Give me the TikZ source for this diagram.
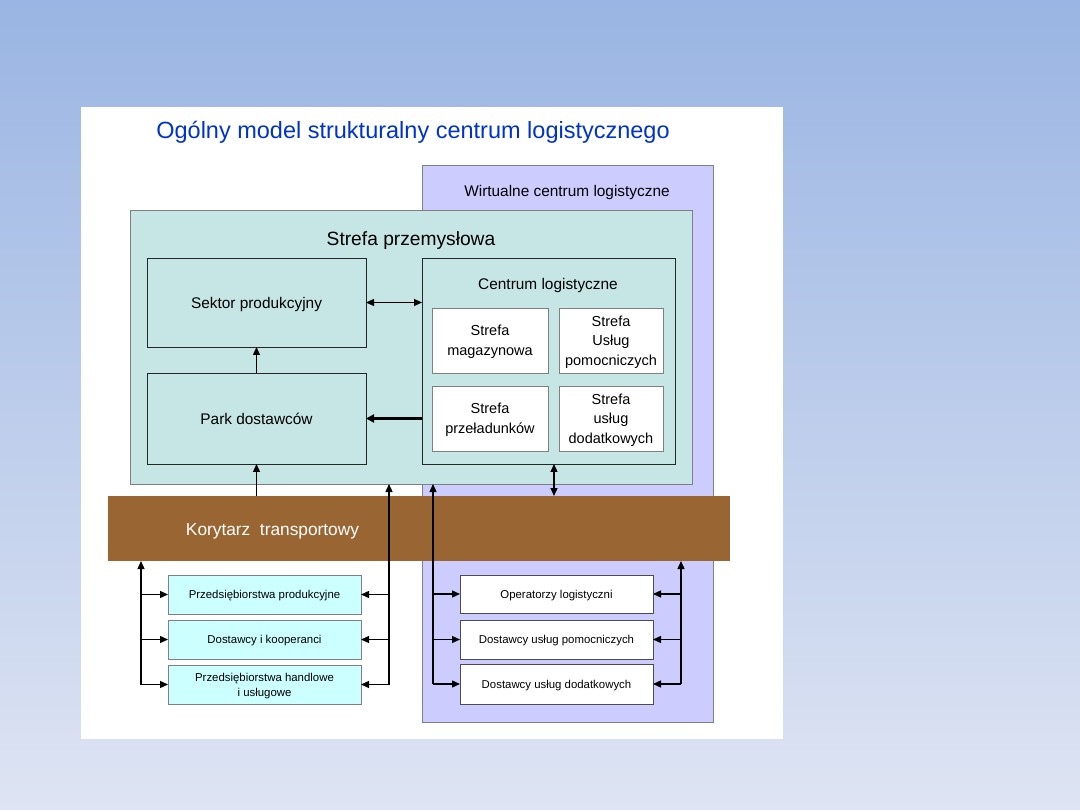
\documentclass[tikz,border=0pt]{standalone}
\usepackage{fontspec}
\setmainfont{Liberation Sans}
\usetikzlibrary{arrows.meta}
\definecolor{bgtop}{RGB}{154,181,227}
\definecolor{bgbot}{RGB}{222,228,243}
\definecolor{titleblue}{RGB}{0,51,204}
\definecolor{lavzone}{RGB}{204,204,255}
\definecolor{tealzone}{RGB}{198,229,229}
\definecolor{corrbrown}{RGB}{153,102,51}
\definecolor{cyanbox}{RGB}{204,255,255}
\definecolor{bordergray}{RGB}{128,128,128}
\tikzset{
  every node/.style={inner sep=0pt, outer sep=0pt},
  cornerbox/.style={anchor=north west, line width=0.9pt},
  zonebox/.style={cornerbox, draw=bordergray},
  darkbox/.style={cornerbox, draw=black!85, fill=tealzone, align=center, font=\fontsize{15.4}{18}\selectfont, text depth=0pt},
  subbox/.style={cornerbox, draw=bordergray, fill=white, align=center, font=\fontsize{14.5}{19.5}\selectfont, text depth=0pt},
  leftbox/.style={cornerbox, draw=bordergray, fill=cyanbox, align=center, font=\fontsize{11.4}{15}\selectfont, minimum width=193pt, text depth=0pt},
  rightbox/.style={cornerbox, draw=black!70, fill=white, align=center, font=\fontsize{11.4}{15}\selectfont, minimum width=193pt, text depth=0pt},
  tip/.tip={Triangle[length=8pt,width=7pt]},
  conn/.style={line width=1.3pt, draw=black, -tip},
  dconn/.style={line width=1.2pt, draw=black, tip-tip},
  thickconn/.style={line width=2.4pt, draw=black, -{Triangle[length=8pt,width=8pt]}},
}
\begin{document}
\begin{tikzpicture}[x=1pt,y=-1pt]
\useasboundingbox (0,0) rectangle (1080,810);
\shade[top color=bgtop, bottom color=bgbot] (0,0) rectangle (1080,810);
% white panel
\fill[white] (81,107) rectangle (783,739);
% title
\node[text=titleblue, font=\fontsize{23.5}{27}\selectfont] (title) at (413,132) {Ogólny model strukturalny centrum logistycznego};
% virtual logistics centre
\node[zonebox, fill=lavzone, minimum width=291pt, minimum height=557pt] (vcl) at (422,165) {};
\node[font=\fontsize{15.4}{18}\selectfont] (vcltxt) at (567,193) {Wirtualne centrum logistyczne};
% industrial zone
\node[zonebox, fill=tealzone, minimum width=562pt, minimum height=274pt] (strefa) at (130,210) {};
\node[font=\fontsize{19.2}{22}\selectfont] (strefatxt) at (411,241) {Strefa przemysłowa};
\node[darkbox, minimum width=219pt, minimum height=89pt] (sektor) at (147,258) {Sektor produkcyjny};
\node[darkbox, minimum width=219pt, minimum height=91pt] (park) at (147,373) {Park dostawców};
\node[darkbox, minimum width=253pt, minimum height=206pt] (centrum) at (422,258) {};
\node[font=\fontsize{15.4}{18}\selectfont] (centrumtxt) at (548,286) {Centrum logistyczne};
\node[subbox, minimum width=116pt, minimum height=65pt] (mag) at (432,308) {Strefa\\magazynowa};
\node[subbox, minimum width=104pt, minimum height=65pt] (pom) at (559,308) {Strefa\\Usług\\pomocniczych};
\node[subbox, minimum width=116pt, minimum height=65pt] (prz) at (432,386) {Strefa\\przeładunków};
\node[subbox, minimum width=104pt, minimum height=65pt] (dod) at (559,386) {Strefa\\usług\\dodatkowych};
% connectors inside zone
\draw[dconn] (sektor.east) -- (sektor.east -| centrum.west);
\draw[conn] (park.north) -- (sektor.south);
\draw[thickconn] (park.east -| centrum.west) -- (park.east);
% corridor
\node[cornerbox, fill=corrbrown, minimum width=622pt, minimum height=65pt] (corr) at (108,496) {};
\node[text=white, font=\fontsize{17.3}{20}\selectfont] (corrtxt) at (272.5,531) {Korytarz\ \ transportowy};
% bottom boxes
\node[leftbox, minimum height=39pt] (lb1) at (168,575) {Przedsiębiorstwa produkcyjne};
\node[leftbox, minimum height=39pt] (lb2) at (168,620) {Dostawcy i kooperanci};
\node[leftbox, minimum height=39pt] (lb3) at (168,665) {Przedsiębiorstwa handlowe\\i usługowe};
\node[rightbox, minimum height=38pt] (rb1) at (460,575) {Operatorzy logistyczni};
\node[rightbox, minimum height=39pt] (rb2) at (460,620) {Dostawcy usług pomocniczych};
\node[rightbox, minimum height=40pt] (rb3) at (460,664) {Dostawcy usług dodatkowych};
% bus coordinates
\coordinate (busA) at (141,684.5);
\coordinate (busB) at (389,684.5);
\coordinate (busC) at (433,684);
\coordinate (busD) at (681,684);
% vertical buses
\draw[conn] (park.south |- corr.north) -- (park.south);
\draw[dconn] (centrum.south -| 554,0) -- (corr.north -| 554,0);
\draw[conn] (busA) -- (busA |- corr.south);
\draw[conn] (busB) -- (busB |- strefa.south);
\draw[conn] (busC) -- (busC |- strefa.south);
\draw[conn] (busD) -- (busD |- corr.south);
% branches
\foreach \b in {lb1,lb2,lb3} {
  \draw[conn] (\b.west -| busA) -- (\b.west);
  \draw[conn] (\b.east -| busB) -- (\b.east);
}
\foreach \b in {rb1,rb2,rb3} {
  \draw[conn] (\b.west -| busC) -- (\b.west);
  \draw[conn] (\b.east -| busD) -- (\b.east);
}
\end{tikzpicture}
\end{document}
